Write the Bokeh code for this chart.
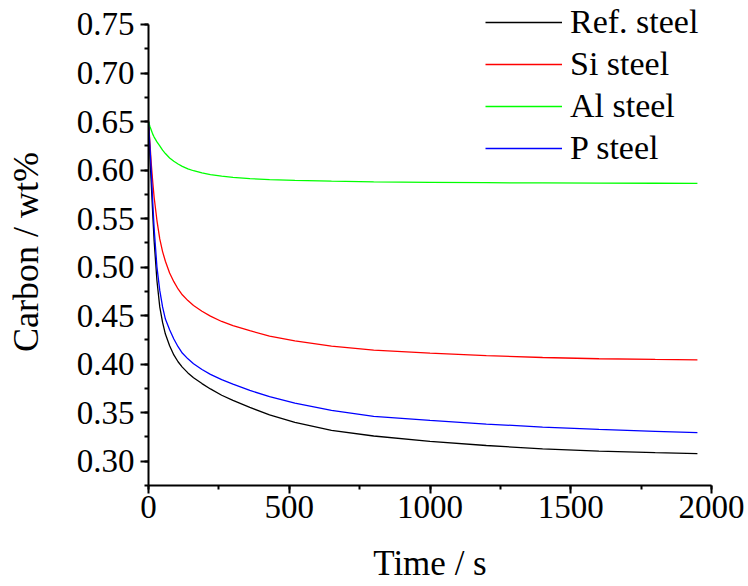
from bokeh.plotting import figure
from bokeh.models import (Range1d, SingleIntervalTicker, PrintfTickFormatter,
                          Legend, LegendItem)
from bokeh.embed import file_html
from bokeh.resources import INLINE

# Time / s
time_s = [0, 5, 10, 15, 20, 30, 40, 50, 60, 75, 90, 105, 120, 140, 160, 190,
          220, 260, 300, 360, 430, 520, 650, 800, 1000, 1200, 1400, 1600, 1800, 1950]

ref_steel = [0.650, 0.615, 0.585, 0.555, 0.527, 0.486, 0.459, 0.443, 0.431, 0.419,
             0.4095, 0.4025, 0.397, 0.391, 0.386, 0.380, 0.3745, 0.368, 0.3627, 0.3555,
             0.3478, 0.3400, 0.3318, 0.3260, 0.3205, 0.3162, 0.3128, 0.3104, 0.3088, 0.3079]

si_steel = [0.650, 0.628, 0.606, 0.588, 0.572, 0.548, 0.529, 0.516, 0.506, 0.494,
            0.485, 0.4775, 0.4715, 0.4655, 0.4605, 0.4545, 0.4495, 0.4440, 0.4397, 0.4345,
            0.4290, 0.4240, 0.4185, 0.4145, 0.4113, 0.4088, 0.4069, 0.4056, 0.4049, 0.4045]

al_steel = [0.650, 0.645, 0.641, 0.637, 0.634, 0.629, 0.625, 0.6205, 0.617, 0.6125,
            0.609, 0.6062, 0.6038, 0.6013, 0.5993, 0.597, 0.5953, 0.5937, 0.5925, 0.5912,
            0.5902, 0.5893, 0.5885, 0.5879, 0.5874, 0.5870, 0.5867, 0.5865, 0.5864, 0.5863]

p_steel = [0.650, 0.625, 0.598, 0.567, 0.540, 0.500, 0.476, 0.459, 0.4465, 0.4355,
           0.426, 0.418, 0.4115, 0.4055, 0.4005, 0.3945, 0.3895, 0.3840, 0.3795, 0.3730,
           0.3665, 0.3598, 0.3525, 0.3462, 0.3420, 0.3383, 0.3352, 0.3328, 0.3308, 0.3295]

series_names = ["Ref. steel", "Si steel", "Al steel", "P steel"]
series_values = [ref_steel, si_steel, al_steel, p_steel]
series_colors = ["#000000", "#ff0000", "#00ff00", "#0000ff"]

y_tick_step = 0.05
x_tick_step = 500

FONT = "Times"

# frame reaches the canvas top so the legend is not clipped;
# the y axis itself is bounded to 0.275..0.75 like the reference
p = figure(width=748, height=586, output_backend="svg", toolbar_location=None,
           x_range=Range1d(0, 2000), y_range=Range1d(0.275, 0.7747),
           min_border_left=148, min_border_right=37, min_border_top=0,
           min_border_bottom=101)
p.outline_line_color = None
p.xgrid.visible = False
p.ygrid.visible = False
p.background_fill_color = "white"
p.border_fill_color = "white"

renderers = []
for name, vals, col in zip(series_names, series_values, series_colors):
    r = p.line(time_s, vals, line_color=col, line_width=1.3)
    renderers.append(r)

for ax in (p.xaxis[0], p.yaxis[0]):
    ax.axis_line_width = 2
    ax.axis_line_color = "black"
    ax.major_tick_line_width = 2
    ax.minor_tick_line_width = 2
    ax.major_tick_in = 0
    ax.minor_tick_in = 0
    ax.major_tick_out = 8
    ax.minor_tick_out = 4
    ax.major_label_text_font = FONT
    ax.major_label_text_font_size = "33px"
    ax.major_label_text_color = "black"
    ax.axis_label_text_font = FONT
    ax.axis_label_text_font_style = "normal"
    ax.axis_label_text_color = "black"

p.xaxis[0].axis_label_text_font_size = "35px"
p.yaxis[0].axis_label_text_font_size = "36px"

p.yaxis[0].bounds = (0.275, 0.75)
p.xaxis[0].ticker = SingleIntervalTicker(interval=x_tick_step, num_minor_ticks=2)
p.yaxis[0].ticker = SingleIntervalTicker(interval=y_tick_step, num_minor_ticks=2)
p.yaxis[0].formatter = PrintfTickFormatter(format="%.2f")
p.xaxis[0].axis_label = "Time / s"
# two no-break spaces keep the label centred on the bounded axis (0.275-0.75)
p.yaxis[0].axis_label = "Carbon / wt%\u00a0\u00a0"
p.xaxis[0].major_label_standoff = 2
p.yaxis[0].major_label_standoff = 6
p.xaxis[0].axis_label_standoff = 23
p.yaxis[0].axis_label_standoff = 28

items = [LegendItem(label=n, renderers=[r]) for n, r in zip(series_names, renderers)]
legend = Legend(items=items, location=(337, 316), border_line_color=None,
                background_fill_alpha=0, padding=0, margin=0, spacing=0,
                glyph_width=77, glyph_height=42, label_height=42, label_standoff=8,
                label_text_font=FONT, label_text_font_size="34px",
                label_text_color="black")
p.add_layout(legend, "center")

open("out.html", "w").write(file_html(p, INLINE))
